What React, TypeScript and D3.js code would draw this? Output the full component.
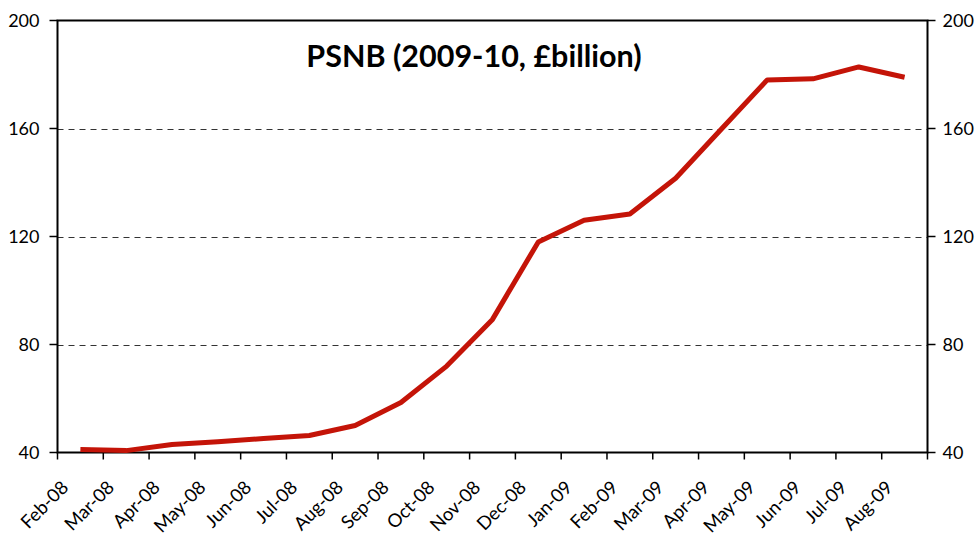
import React from "react";
import * as d3 from "d3";

const categories = ["Feb-08","Mar-08","Apr-08","May-08","Jun-08","Jul-08","Aug-08","Sep-08","Oct-08","Nov-08","Dec-08","Jan-09","Feb-09","Mar-09","Apr-09","May-09","Jun-09","Jul-09","Aug-09"];
const psnb = [41.1,40.7,43,44,45.2,46.3,50,58.5,72,89.3,118,126,128.3,141.6,159.8,178,178.4,182.8,179];
const yTicks = [40,80,120,160,200];
const gridTicks = [80,120,160];
const title = "PSNB (2009-10, £billion)";

export default function App() {
  const W = 980, H = 538;
  const left = 57.5, right = 927.5, top = 20.5, bottom = 452.5;
  const font = "Lato, 'Open Sans', sans-serif";
  const x = d3.scaleBand<string>().domain(categories).range([left, right]).paddingInner(0).paddingOuter(0);
  const y = d3.scaleLinear().domain([40, 200]).range([bottom, top]);
  const line = d3.line<number>()
    .x((_, i) => (x(categories[i]) as number) + x.bandwidth() / 2)
    .y((d) => y(d));
  const boundaries = categories.map((c) => x(c) as number).concat([right]);
  return (
    <svg width={W} height={H} style={{ position: "absolute", left: 0, top: 0 }}>
      <rect x={0} y={0} width={W} height={H} fill="#fff" />
      {gridTicks.map((t) => (
        <line key={t} x1={left} x2={right} y1={Math.round(y(t)) + 0.5} y2={Math.round(y(t)) + 0.5} stroke="#333" strokeWidth={1} strokeDasharray="6,5" />
      ))}
      <rect x={left} y={top} width={right - left} height={bottom - top} fill="none" stroke="#000" strokeWidth={2} />
      {yTicks.map((t) => (
        <g key={t}>
          <line x1={left - 8} x2={left} y1={y(t)} y2={y(t)} stroke="#000" strokeWidth={1.5} />
          <line x1={right} x2={right + 8} y1={y(t)} y2={y(t)} stroke="#000" strokeWidth={1.5} />
          <text x={left - 18} y={y(t)} dy="0.36em" textAnchor="end" fontFamily={font} fontSize={18} fill="#000">{t}</text>
          <text x={right + 15} y={y(t)} dy="0.36em" textAnchor="start" fontFamily={font} fontSize={18} fill="#000">{t}</text>
        </g>
      ))}
      {boundaries.map((b, i) => (
        <line key={i} x1={b} x2={b} y1={bottom} y2={bottom + 7} stroke="#000" strokeWidth={1.5} />
      ))}
      {categories.map((c) => {
        const cx = (x(c) as number) + x.bandwidth() / 2;
        return (
          <text key={c} transform={`translate(${cx - 20},${bottom + 27}) rotate(-45)`} textAnchor="end" dy="0.7em" fontFamily={font} fontSize={18.5} fill="#000">{c}</text>
        );
      })}
      <path d={line(psnb) || ""} fill="none" stroke="#C41408" strokeWidth={5} strokeLinejoin="round" />
      <text x={474} y={67} textAnchor="middle" fontFamily={font} fontWeight="bold" fontSize={30.5} fill="#000">{title}</text>
    </svg>
  );
}
